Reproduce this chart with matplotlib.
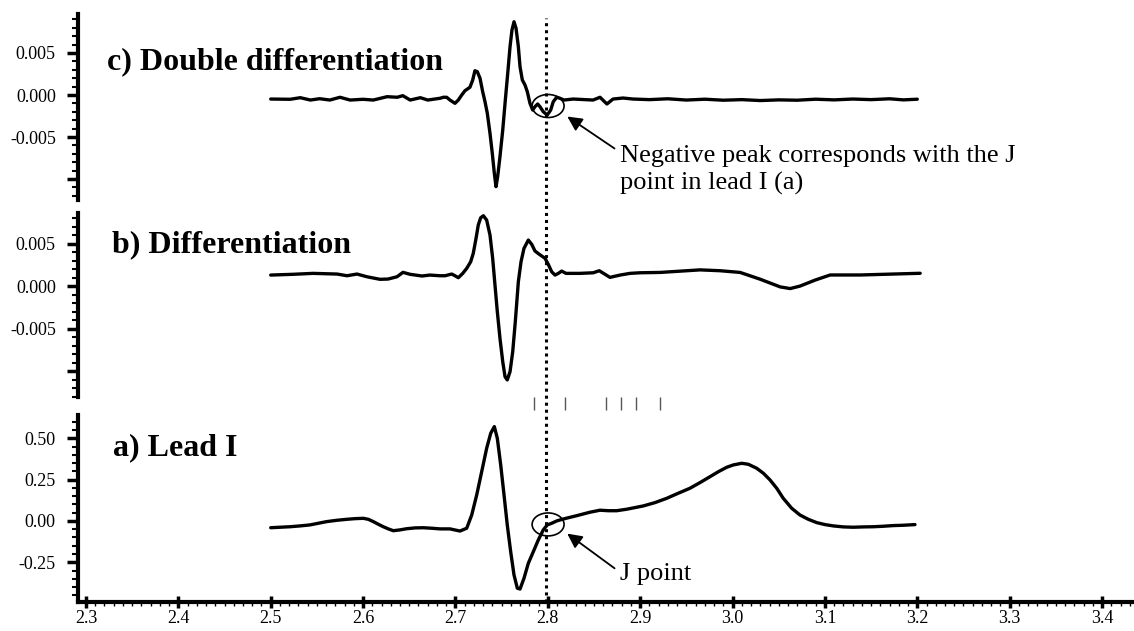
import matplotlib
matplotlib.use("Agg")
import matplotlib.pyplot as plt
import matplotlib.transforms as mtransforms
from matplotlib.patches import Ellipse
from matplotlib.ticker import FixedLocator, MultipleLocator, FuncFormatter

plt.rcParams['font.family'] = ['Liberation Serif', 'DejaVu Serif']

# c) double differentiation
t_dd = [2.500, 2.521, 2.532, 2.543, 2.553, 2.564, 2.575, 2.586, 2.600, 2.611,
        2.626, 2.637, 2.643, 2.651, 2.662, 2.670, 2.6833, 2.6869, 2.6905, 2.6941,
        2.6995, 2.7031, 2.7068, 2.7103, 2.7157, 2.7187, 2.7211, 2.7237, 2.7266, 2.7295,
        2.7320, 2.7345, 2.7374, 2.7399, 2.7421, 2.7439, 2.7457, 2.7482, 2.7512, 2.7540,
        2.7566, 2.7591, 2.7612, 2.7634, 2.7656, 2.7681, 2.7699, 2.7724, 2.7753, 2.7778,
        2.7807, 2.7836, 2.7861, 2.7890, 2.7915, 2.7951, 2.7994, 2.8031, 2.8059, 2.8096,
        2.8132, 2.8175, 2.8274, 2.849, 2.8565, 2.864, 2.8706, 2.8814, 2.8922, 2.910,
        2.930, 2.950, 2.970, 2.990, 3.010, 3.030, 3.050, 3.070, 3.090, 3.110,
        3.130, 3.150, 3.170, 3.185, 3.200]
v_dd = [-0.00048, -0.00051, -0.00032, -0.00060, -0.00044, -0.00060, -0.00027, -0.00060, -0.00051, -0.00060,
        -0.00020, -0.00027, -0.00008, -0.00060, -0.00032, -0.00060, -0.00039, -0.00027, -0.00027, -0.00060,
        -0.00099, -0.00060, 0.00000, 0.00051, 0.00092, 0.00179, 0.00289, 0.00277, 0.00199, 0.00039,
        -0.00080, -0.00218, -0.00456, -0.00695, -0.00932, -0.01091, -0.00972, -0.00734, -0.00417, -0.00060,
        0.00258, 0.00575, 0.00774, 0.00872, 0.00794, 0.00575, 0.00337, 0.00179, 0.00119, 0.00039,
        -0.00099, -0.00179, -0.00139, -0.00107, -0.00139, -0.00199, -0.00238, -0.00179, -0.00080, -0.00027,
        -0.00039, -0.00060, -0.00048, -0.00060, -0.00027, -0.00107, -0.00048, -0.00036, -0.00048, -0.00055,
        -0.00045, -0.00060, -0.00050, -0.00062, -0.00055, -0.00066, -0.00058, -0.00062, -0.00050, -0.00058,
        -0.00048, -0.00055, -0.00045, -0.00058, -0.00050]

# b) differentiation
t_d = [2.500, 2.5241, 2.5458, 2.5718, 2.5826, 2.5934, 2.6042, 2.6183, 2.6270, 2.6367,
       2.6432, 2.6508, 2.6638, 2.6724, 2.6833, 2.6887, 2.6960, 2.6995, 2.7031, 2.7079,
       2.7122, 2.7165, 2.7193, 2.7223, 2.7247, 2.7273, 2.7302, 2.7338, 2.7374, 2.7403,
       2.7428, 2.7453, 2.7482, 2.7512, 2.7537, 2.7561, 2.7591, 2.7620, 2.7648, 2.7681,
       2.7710, 2.7742, 2.7789, 2.7826, 2.7861, 2.7908, 2.7970, 2.8005, 2.8042, 2.8078,
       2.8114, 2.8150, 2.8197, 2.8348, 2.8492, 2.8557, 2.8673, 2.8782, 2.8890, 2.8998,
       2.9216, 2.9649, 2.9866, 3.0082, 3.0299, 3.0515, 3.0624, 3.0732, 3.0894, 3.1057,
       3.1382, 3.1706, 3.2031]
v_d = [0.00129, 0.00138, 0.00149, 0.00141, 0.00121, 0.00141, 0.00109, 0.00079, 0.00082, 0.00109,
       0.00161, 0.00138, 0.00118, 0.00129, 0.00121, 0.00121, 0.00141, 0.00121, 0.00098, 0.00149,
       0.00208, 0.00286, 0.00385, 0.00561, 0.00717, 0.00803, 0.00827, 0.00776, 0.00600, 0.00326,
       0.00012, -0.00298, -0.00615, -0.00890, -0.01067, -0.01105, -0.01008, -0.00773, -0.00420, 0.00051,
       0.00286, 0.00443, 0.00541, 0.00490, 0.00412, 0.00373, 0.00326, 0.00255, 0.00168, 0.00129,
       0.00149, 0.00176, 0.00149, 0.00149, 0.00156, 0.00180, 0.00102, 0.00129, 0.00149, 0.00156,
       0.00160, 0.00190, 0.00180, 0.00160, 0.00080, -0.00010, -0.00030, 0.00000, 0.00070, 0.00130,
       0.00130, 0.00140, 0.00150]

# a) lead I
t_ecg = [2.500, 2.5101, 2.5209, 2.5317, 2.5425, 2.5515, 2.5606, 2.5715, 2.5823, 2.5913,
         2.6002, 2.6057, 2.6111, 2.6165, 2.6219, 2.6273, 2.6327, 2.6400, 2.6472, 2.6562,
         2.6652, 2.6743, 2.6833, 2.6941, 2.7049, 2.7122, 2.7176, 2.7230, 2.7284, 2.7338,
         2.7382, 2.7421, 2.7453, 2.7490, 2.7526, 2.7561, 2.7598, 2.7634, 2.7670, 2.7699,
         2.7742, 2.7789, 2.7843, 2.7897, 2.7951, 2.7994, 2.8042, 2.8096, 2.8168, 2.8313,
         2.8457, 2.8565, 2.8655, 2.8746, 2.8854, 2.8962, 2.9034, 2.9160, 2.9287, 2.9413,
         2.9539, 2.9647, 2.9756, 2.9846, 2.9937, 3.0008, 3.0099, 3.0171, 3.0261, 3.0333,
         3.0406, 3.0478, 3.0549, 3.0640, 3.0730, 3.0820, 3.0911, 3.1001, 3.1091, 3.1199,
         3.1307, 3.1415, 3.1524, 3.1632, 3.1740, 3.1848, 3.1975]
v_ecg = [-0.041, -0.038, -0.035, -0.030, -0.024, -0.014, -0.004, 0.004, 0.010, 0.014,
         0.016, 0.010, -0.004, -0.020, -0.035, -0.048, -0.059, -0.054, -0.047, -0.042,
         -0.041, -0.044, -0.048, -0.048, -0.061, -0.044, 0.036, 0.157, 0.298, 0.440,
         0.531, 0.571, 0.501, 0.339, 0.157, -0.024, -0.186, -0.327, -0.407, -0.412,
         -0.347, -0.256, -0.186, -0.115, -0.054, -0.024, -0.014, 0.000, 0.012, 0.032,
         0.053, 0.065, 0.062, 0.062, 0.071, 0.083, 0.091, 0.111, 0.137, 0.168,
         0.198, 0.232, 0.268, 0.298, 0.325, 0.339, 0.349, 0.343, 0.319, 0.289,
         0.248, 0.198, 0.137, 0.077, 0.036, 0.010, -0.010, -0.022, -0.030, -0.036,
         -0.038, -0.036, -0.035, -0.032, -0.028, -0.026, -0.022]

beat_marks = [2.785, 2.8186, 2.863, 2.879, 2.895, 2.9215]
j_time = 2.798

fig = plt.figure(figsize=(11.34, 6.31), dpi=100)
left, width = 0.0688, 0.9312
ax_c = fig.add_axes([left, 0.6830, width, 0.2948])
ax_b = fig.add_axes([left, 0.3708, width, 0.2916])
ax_a = fig.add_axes([left, 0.0460, width, 0.2964])

xlim = (2.2914, 3.4346)
lw = 2.4

def style_axis(ax, bottom=False):
    for s in ['top', 'right']:
        ax.spines[s].set_visible(False)
    ax.spines['left'].set_linewidth(3)
    ax.set_xlim(*xlim)
    ax.tick_params(axis='y', which='major', direction='out', length=8, width=2.5,
                   labelsize=13, pad=8)
    ax.tick_params(axis='y', which='minor', direction='out', length=4, width=1.5)
    if bottom:
        ax.spines['bottom'].set_linewidth(3)
        ax.xaxis.set_major_locator(MultipleLocator(0.1))
        ax.xaxis.set_minor_locator(MultipleLocator(0.01))
        ax.xaxis.set_major_formatter(FuncFormatter(lambda v, p: f"{v:.1f}"))
        ax.tick_params(axis='x', which='major', direction='inout', length=9, width=2.5,
                       labelsize=13, pad=1)
        ax.tick_params(axis='x', which='minor', direction='out', length=3, width=1)
    else:
        ax.spines['bottom'].set_visible(False)
        ax.set_xticks([])

def trace(ax, t, v):
    ax.plot(t, v, color='black', lw=lw, solid_joinstyle='round', solid_capstyle='round')

# top panel
trace(ax_c, t_dd, v_dd)
style_axis(ax_c)
ax_c.set_ylim(-0.0125, 0.00964)
ax_c.yaxis.set_major_locator(FixedLocator([-0.010, -0.005, 0.0, 0.005]))
ax_c.yaxis.set_minor_locator(MultipleLocator(0.001))
ax_c.yaxis.set_major_formatter(FuncFormatter(lambda v, p: "" if v < -0.008 else f"{v:.3f}"))
ax_c.text(2.3228, 0.00309, "c) Double differentiation", fontsize=23, fontweight='bold', va='baseline')
ax_c.add_patch(Ellipse((2.8003, -0.00131), 0.0346, 0.00274, fill=False, lw=1.2, color='black'))
ax_c.annotate("", xy=(2.8186, -0.00238), xytext=(2.8747, -0.00655),
              arrowprops=dict(arrowstyle='-|>', color='black', lw=1.3, mutation_scale=22))
ax_c.text(2.8785, -0.00794, "Negative peak corresponds with the J", fontsize=19, va='baseline')
ax_c.text(2.8785, -0.0113, "point in lead I (a)", fontsize=19, va='baseline')

# middle panel
trace(ax_b, t_d, v_d)
style_axis(ax_b)
ax_b.set_ylim(-0.01306, 0.00859)
ax_b.yaxis.set_major_locator(FixedLocator([-0.010, -0.005, 0.0, 0.005]))
ax_b.yaxis.set_minor_locator(MultipleLocator(0.001))
ax_b.yaxis.set_major_formatter(FuncFormatter(lambda v, p: "" if v < -0.008 else f"{v:.3f}"))
ax_b.text(2.3282, 0.00403, "b) Differentiation", fontsize=23, fontweight='bold', va='baseline')

# bottom panel
trace(ax_a, t_ecg, v_ecg)
style_axis(ax_a, bottom=True)
ax_a.set_ylim(-0.4903, 0.6416)
ax_a.yaxis.set_major_locator(FixedLocator([-0.25, 0.0, 0.25, 0.5]))
ax_a.yaxis.set_minor_locator(MultipleLocator(0.05))
ax_a.yaxis.set_major_formatter(FuncFormatter(lambda v, p: f"{v:.2f}"))
ax_a.text(2.3293, 0.3995, "a) Lead I", fontsize=23, fontweight='bold', va='baseline')
ax_a.add_patch(Ellipse((2.8003, -0.021), 0.0346, 0.139, fill=False, lw=1.2, color='black'))
ax_a.annotate("", xy=(2.8186, -0.0666), xytext=(2.8747, -0.2966),
              arrowprops=dict(arrowstyle='-|>', color='black', lw=1.3, mutation_scale=22))
ax_a.text(2.8785, -0.357, "J point", fontsize=19, va='baseline')
ax_a.vlines(beat_marks, 0.672, 0.751, color='#555555', lw=1, clip_on=False)

# dotted J-point line across all panels
trans = mtransforms.blended_transform_factory(ax_a.transData, fig.transFigure)
fig.add_artist(plt.Line2D([j_time, j_time], [0.046, 0.9715], transform=trans,
                          color='black', lw=2.2, linestyle=(0, (1, 1.3))))

fig.savefig("out.png", dpi=100)
